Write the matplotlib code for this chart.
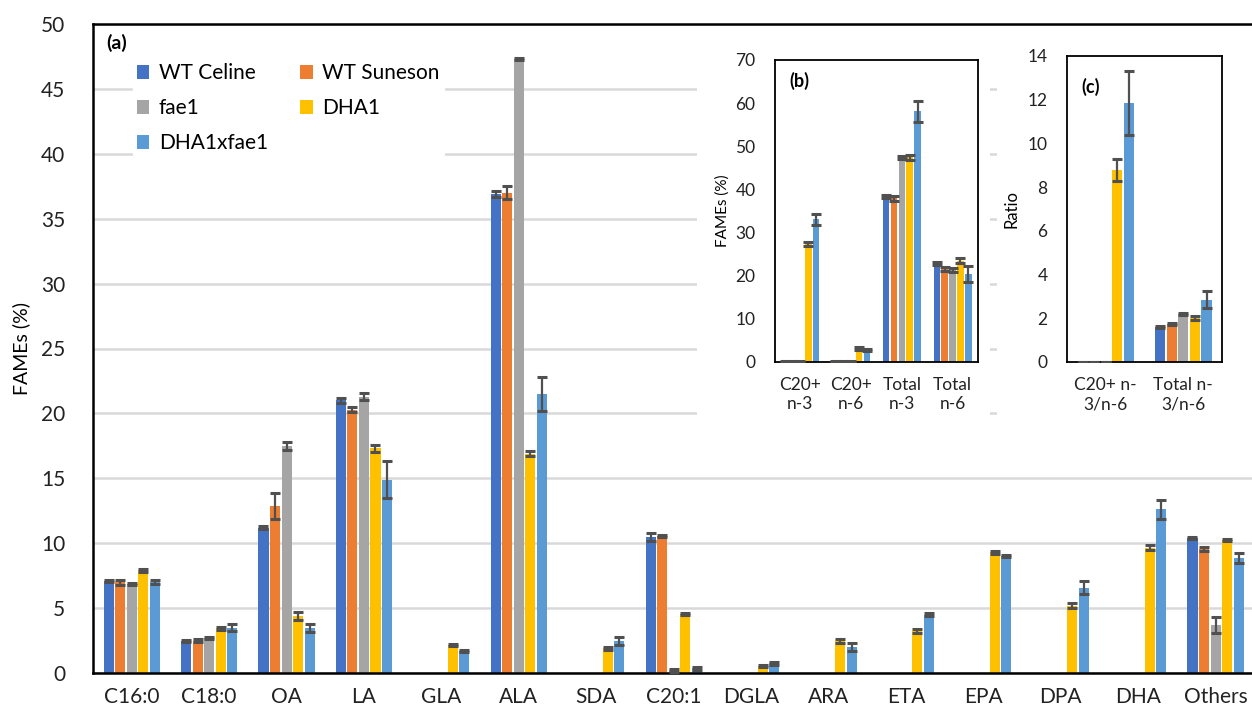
import matplotlib
matplotlib.use('Agg')
import matplotlib.pyplot as plt
import numpy as np
from matplotlib.patches import Rectangle

plt.rcParams['font.family'] = ['Lato', 'DejaVu Sans']

# Datos del gráfico principal (a)
categorias = ['C16:0', 'C18:0', 'OA', 'LA', 'GLA', 'ALA', 'SDA', 'C20:1',
              'DGLA', 'ARA', 'ETA', 'EPA', 'DPA', 'DHA', 'Others']
lineas = ['WT Celine', 'WT Suneson', 'fae1', 'DHA1', 'DHA1xfae1']
colores = ['#4472C4', '#ED7D31', '#A5A5A5', '#FFC000', '#5B9BD5']

wt_celine = [7.1, 2.45, 11.2, 21.0, 0, 36.9, 0, 10.5, 0, 0, 0, 0, 0, 0, 10.4]
wt_suneson = [7.0, 2.5, 12.9, 20.3, 0, 37.0, 0, 10.55, 0, 0, 0, 0, 0, 0, 9.55]
fae1 = [6.85, 2.7, 17.5, 21.3, 0, 47.3, 0, 0.2, 0, 0, 0, 0, 0, 0, 3.7]
dha1 = [7.9, 3.45, 4.4, 17.3, 2.15, 16.9, 1.9, 4.55, 0.55, 2.45, 3.25, 9.3, 5.2, 9.65, 10.25]
dha1xfae1 = [7.0, 3.5, 3.45, 14.9, 1.7, 21.5, 2.45, 0.35, 0.75, 2.0, 4.5, 9.0, 6.55, 12.6, 8.85]

err_celine = [0.1, 0.1, 0.1, 0.2, 0, 0.2, 0, 0.3, 0, 0, 0, 0, 0, 0, 0.1]
err_suneson = [0.2, 0.1, 1.0, 0.2, 0, 0.5, 0, 0.1, 0, 0, 0, 0, 0, 0, 0.15]
err_fae1 = [0.1, 0.1, 0.3, 0.3, 0, 0.1, 0, 0.1, 0, 0, 0, 0, 0, 0, 0.6]
err_dha1 = [0.1, 0.1, 0.3, 0.3, 0.1, 0.2, 0.1, 0.1, 0.1, 0.15, 0.15, 0.1, 0.2, 0.2, 0.1]
err_dha1xfae1 = [0.15, 0.3, 0.3, 1.4, 0.1, 1.3, 0.3, 0.1, 0.1, 0.3, 0.1, 0.1, 0.5, 0.75, 0.4]

# Recuadro (b)
cat_b = ['C20+\nn-3', 'C20+\nn-6', 'Total\nn-3', 'Total\nn-6']
b_celine = [0, 0, 38.3, 22.8]
b_suneson = [0, 0, 37.9, 21.5]
b_fae1 = [0, 0, 47.4, 21.3]
b_dha1 = [27.3, 3.1, 47.4, 23.4]
b_dha1xfae1 = [33.0, 2.7, 58.1, 20.3]
eb_celine = [0.1, 0.1, 0.4, 0.3]
eb_suneson = [0.1, 0.1, 0.5, 0.5]
eb_fae1 = [0.1, 0.1, 0.3, 0.5]
eb_dha1 = [0.4, 0.3, 0.6, 0.6]
eb_dha1xfae1 = [1.2, 0.3, 2.5, 1.9]

# Recuadro (c)
cat_c = ['C20+ n-\n3/n-6', 'Total n-\n3/n-6']
c_celine = [0, 1.6]
c_suneson = [0, 1.74]
c_fae1 = [0, 2.2]
c_dha1 = [8.8, 2.0]
c_dha1xfae1 = [11.85, 2.85]
ec_celine = [0.02, 0.04]
ec_suneson = [0.02, 0.04]
ec_fae1 = [0.02, 0.04]
ec_dha1 = [0.5, 0.1]
ec_dha1xfae1 = [1.45, 0.38]

COLOR_ERR = '#505050'


def dibujar_barras(ax, n_cat, series, errores, paso, ancho, solo_no_cero):
    x = np.arange(n_cat)
    for i, (vals, errs) in enumerate(zip(series, errores)):
        pos = x + (i - 2) * paso
        ax.bar(pos, vals, width=ancho, color=colores[i], label=lineas[i], zorder=2)
        vals = np.array(vals, dtype=float)
        errs = np.array(errs, dtype=float)
        mask = vals > 0 if solo_no_cero else np.ones(len(vals), bool)
        ax.errorbar(pos[mask], vals[mask], yerr=errs[mask], fmt='none',
                    ecolor=COLOR_ERR, elinewidth=1.6, capsize=3.6, capthick=2.2, zorder=3)


fig = plt.figure(figsize=(12.52, 7.13), dpi=100)

# Gráfico principal
ax = fig.add_axes([93 / 1252, 40 / 713, 1169 / 1252, 649 / 713])
dibujar_barras(ax, len(categorias),
               [wt_celine, wt_suneson, fae1, dha1, dha1xfae1],
               [err_celine, err_suneson, err_fae1, err_dha1, err_dha1xfae1],
               0.149, 0.13, True)
ax.set_xlim(-0.5, 14.6)
ax.set_ylim(0, 50)
ax.set_yticks(range(0, 51, 5))
ax.set_xticks(range(len(categorias)))
ax.set_xticklabels(categorias)
ax.tick_params(axis='both', length=0, labelsize=15, colors='#222222')
ax.tick_params(axis='x', pad=10)
ax.tick_params(axis='y', pad=20)
ax.yaxis.grid(True, color='#d9d9d9', linewidth=1.8, zorder=0)
ax.set_axisbelow(True)
for lado in ['left', 'top', 'bottom']:
    ax.spines[lado].set_linewidth(1.8)
    ax.spines[lado].set_color('black')
ax.spines['right'].set_visible(False)
ax.set_ylabel('FAMEs (%)', fontsize=14, labelpad=8)
ax.text(0.011, 0.985, '(a)', transform=ax.transAxes, fontsize=14,
        fontweight='bold', va='top', ha='left')

handles, labels = ax.get_legend_handles_labels()
orden = [0, 2, 4, 1, 3]
leg = ax.legend([handles[i] for i in orden], [labels[i] for i in orden], ncol=2,
                loc='upper left', bbox_to_anchor=(0.025, 0.962), frameon=True,
                fontsize=15, handlelength=0.6, handleheight=0.6,
                handletextpad=0.45, columnspacing=1.55, labelspacing=0.72,
                borderpad=0.2)
leg.get_frame().set_edgecolor('white')
leg.get_frame().set_facecolor('white')
leg.get_frame().set_alpha(1)

# Fondos blancos de los recuadros
fig.patches.append(Rectangle((697 / 1252, 288 / 713), 293 / 1252, 385 / 713,
                             transform=fig.transFigure, facecolor='white',
                             edgecolor='none', zorder=1))
fig.patches.append(Rectangle((997 / 1252, 288 / 713), 270 / 1252, 385 / 713,
                             transform=fig.transFigure, facecolor='white',
                             edgecolor='none', zorder=1))

# Recuadro (b)
axb = fig.add_axes([775 / 1252, 351.3 / 713, 203 / 1252, 301.7 / 713], zorder=2)
dibujar_barras(axb, len(cat_b),
               [b_celine, b_suneson, b_fae1, b_dha1, b_dha1xfae1],
               [eb_celine, eb_suneson, eb_fae1, eb_dha1, eb_dha1xfae1],
               0.155, 0.13, False)
axb.set_xlim(-0.5, 3.5)
axb.set_ylim(0, 70)
axb.set_yticks(range(0, 71, 10))
axb.set_xticks(range(len(cat_b)))
axb.set_xticklabels(cat_b, linespacing=1.25)
axb.tick_params(axis='both', length=0, labelsize=12.5, colors='#222222')
axb.tick_params(axis='x', pad=11)
axb.tick_params(axis='y', pad=14)
axb.set_ylabel('FAMEs (%)', fontsize=11, labelpad=4)
for lado in ['left', 'top', 'bottom', 'right']:
    axb.spines[lado].set_linewidth(1.3)
axb.text(0.07, 0.96, '(b)', transform=axb.transAxes, fontsize=13,
         fontweight='bold', va='top', ha='left')

# Recuadro (c)
axc = fig.add_axes([1067 / 1252, 351 / 713, 155 / 1252, 306 / 713], zorder=2)
dibujar_barras(axc, len(cat_c),
               [c_celine, c_suneson, c_fae1, c_dha1, c_dha1xfae1],
               [ec_celine, ec_suneson, ec_fae1, ec_dha1, ec_dha1xfae1],
               0.15, 0.13, False)
axc.set_xlim(-0.5, 1.5)
axc.set_ylim(0, 14)
axc.set_yticks(range(0, 15, 2))
axc.set_xticks(range(len(cat_c)))
axc.set_xticklabels(cat_c, linespacing=1.25)
axc.tick_params(axis='both', length=0, labelsize=12.5, colors='#222222')
axc.tick_params(axis='x', pad=11)
axc.tick_params(axis='y', pad=14)
axc.set_ylabel('Ratio', fontsize=12, labelpad=6)
for lado in ['left', 'top', 'bottom', 'right']:
    axc.spines[lado].set_linewidth(1.3)
axc.text(0.09, 0.93, '(c)', transform=axc.transAxes, fontsize=13,
         fontweight='bold', va='top', ha='left')

fig.savefig('out.png', dpi=100)
